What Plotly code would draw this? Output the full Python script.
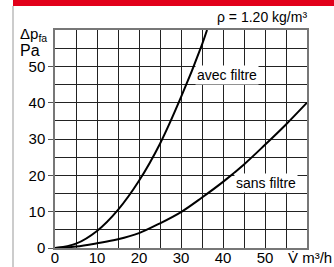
import plotly.graph_objects as go

# data
x_avec = [0, 5, 10, 15, 20, 25, 30, 35, 36.2]
y_avec = [0, 1.2, 4.7, 10.5, 18.5, 28.7, 41.5, 56, 60]
x_sans = [0, 5, 10, 15, 20, 25, 30, 35, 40, 45, 50, 55, 60]
y_sans = [0, 0.4, 1.3, 2.4, 4.1, 6.8, 9.9, 13.9, 18.2, 23, 28.4, 34, 40]
x_ticks = [0, 10, 20, 30, 40, 50]
y_ticks = [0, 10, 20, 30, 40, 50]

FONT = "Liberation Sans, Arial, sans-serif"
NARROW = "Liberation Sans Narrow, Arial Narrow, Liberation Sans, sans-serif"

fig = go.Figure()
fig.add_trace(go.Scatter(x=x_avec, y=y_avec, mode="lines", line=dict(color="black", width=2, shape="spline"),
                         showlegend=False, hoverinfo="skip"))
fig.add_trace(go.Scatter(x=x_sans, y=y_sans, mode="lines", line=dict(color="black", width=2, shape="spline"),
                         showlegend=False, hoverinfo="skip"))

axis_common = dict(showgrid=True, gridcolor="#222", gridwidth=1, zeroline=False, automargin=False,
                   showline=True, mirror=True, linecolor="#777", linewidth=1.5,
                   tickfont=dict(family=FONT, size=15, color="black"),
                   minor=dict(dtick=5, showgrid=True, gridcolor="#222", gridwidth=1, ticks=""))

fig.update_xaxes(range=[0, 60], tickvals=x_ticks, dtick=10, ticks="", ticklen=0, ticklabelstandoff=-5,
                 **axis_common)
fig.update_yaxes(range=[0, 60], tickvals=y_ticks, dtick=10, ticks="outside", ticklen=5, tickcolor="#555",
                 **axis_common)

L, R, T, B = 55, 27, 30, 19
W, H = 334, 267
pw, ph = W - L - R, H - T - B

def px(xp):
    return (xp - L) / pw

def py(yp):
    return (H - B - yp) / ph

shapes = [
    dict(type="rect", xref="paper", yref="paper", x0=px(13), x1=px(334), y0=py(6), y1=py(0),
         fillcolor="#e2001a", line=dict(width=0), layer="above"),
    dict(type="line", xref="paper", yref="paper", x0=px(13), x1=px(13), y0=py(6), y1=py(267),
         line=dict(color="#bbbbbb", width=1.5)),
]

annotations = [
    dict(text="Δp<sub>fa</sub>", xref="paper", yref="paper", x=px(18), y=py(35), xanchor="left", yanchor="middle",
         showarrow=False, font=dict(family=FONT, size=15, color="black")),
    dict(text="Pa", xref="paper", yref="paper", x=px(18), y=py(50), xanchor="left", yanchor="middle",
         showarrow=False, font=dict(family=FONT, size=16, color="black")),
    dict(text="ρ = 1.20 kg/m³", xref="paper", yref="paper", x=px(309), y=py(17), xanchor="right", yanchor="middle",
         showarrow=False, font=dict(family=FONT, size=14, color="black")),
    dict(text="V\u0307 m³/h", xref="paper", yref="paper", x=px(286), y=py(257), xanchor="left", yanchor="middle",
         showarrow=False, font=dict(family=FONT, size=15, color="black")),
    dict(text="avec filtre", x=40.9, y=47.6, xref="x", yref="y", showarrow=False, bgcolor="white",
         font=dict(family=NARROW, size=14, color="black"), borderpad=1),
    dict(text="sans filtre", x=50.3, y=17.9, xref="x", yref="y", showarrow=False, bgcolor="white",
         font=dict(family=NARROW, size=14, color="black"), borderpad=1),
]

fig.update_layout(width=W, height=H, margin=dict(l=L, r=R, t=T, b=B, pad=0),
                  paper_bgcolor="white", plot_bgcolor="white",
                  shapes=shapes, annotations=annotations)

fig.write_html("out.html", config={"displayModeBar": False},
               post_script="document.body.style.margin='0px';document.body.style.overflow='hidden';")
